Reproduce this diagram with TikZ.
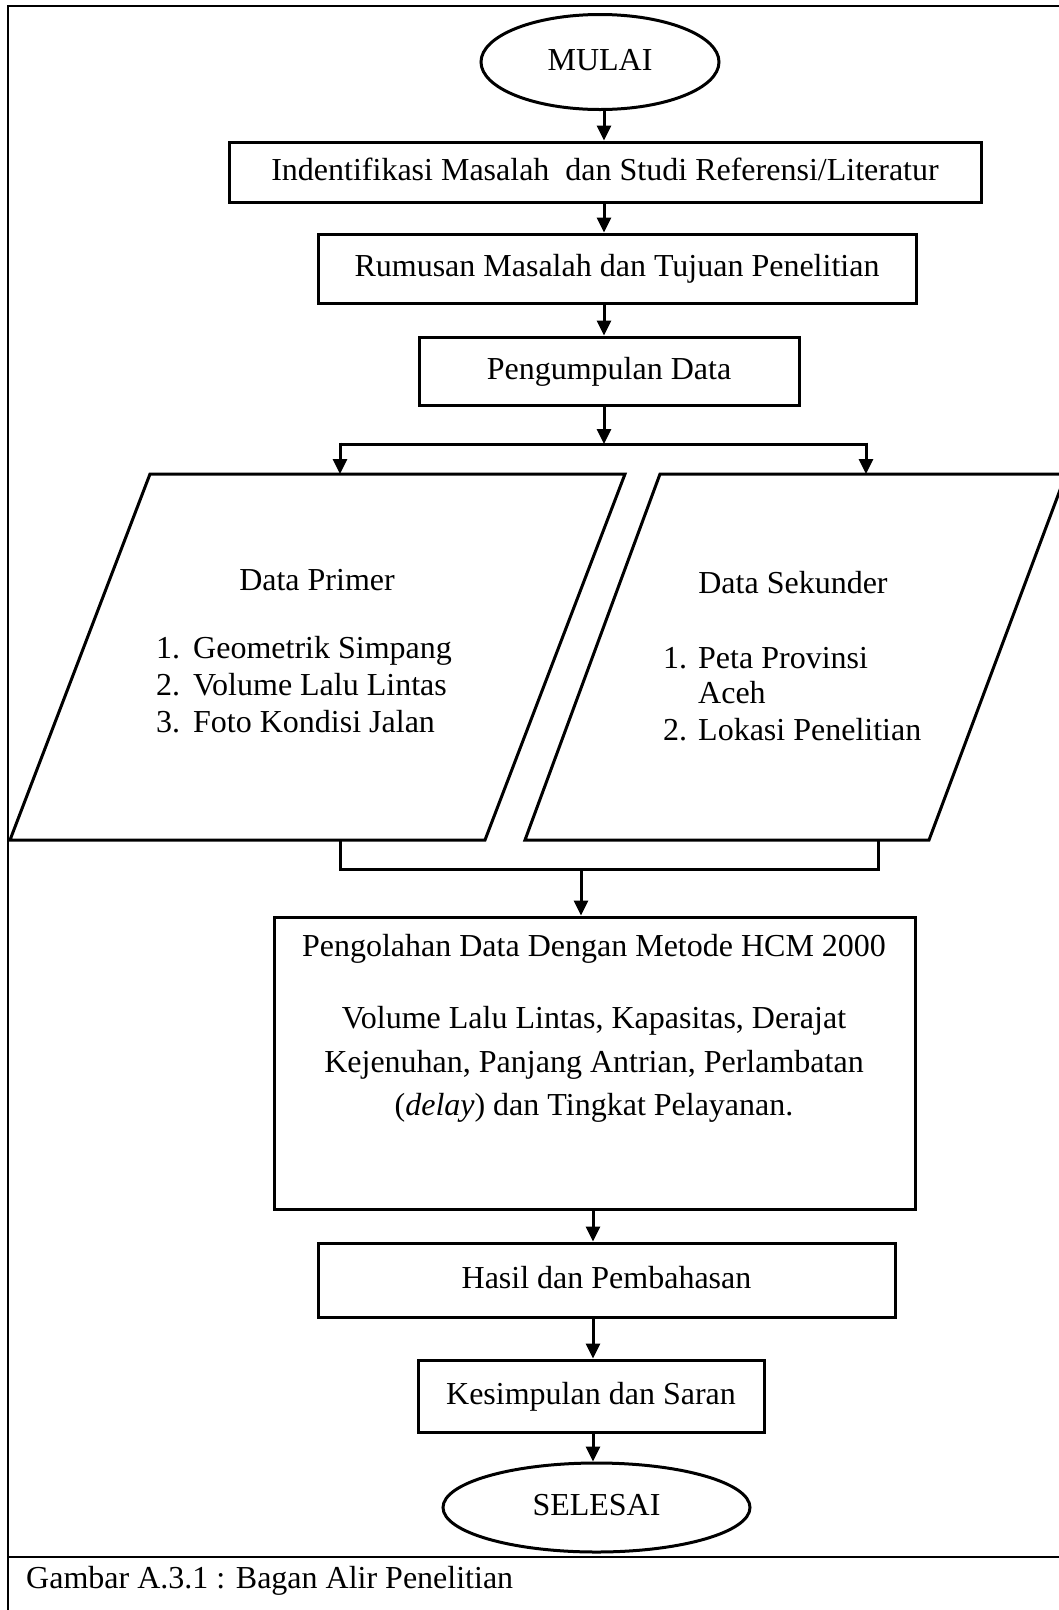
\documentclass[tikz,border=0pt]{standalone}
\usepackage{fontspec}
\setmainfont{Liberation Serif}
\usetikzlibrary{arrows.meta,shapes.geometric,calc}
\begin{document}
\begin{tikzpicture}[x=1pt,y=-1pt,
  font=\fontsize{32}{37}\selectfont,
  box/.style={draw,line width=3pt,inner sep=0pt,text height=22pt,text depth=6pt},
  term/.style={draw,ellipse,line width=3pt,inner sep=0pt,text height=22pt,text depth=6pt},
  para/.style={draw,line width=3pt,line join=miter},
  arr/.style={line width=3pt,-{Triangle[length=15pt,width=14pt]}},
  conn/.style={line width=3pt},
  frame/.style={line width=2pt},
  txt/.style={inner sep=0pt}]
\useasboundingbox (0,0) rectangle (1059,1610);
\clip (0,0) rectangle (1059,1610);
% outer frame and caption separator
\draw[frame] (1075,6) -- (8,6) -- (8,1625);
\draw[frame] (8,1557) -- (1075,1557);
\node[txt,anchor=base west] (cap) at (26,1588) {Gambar A.3.1 : Bagan Alir Penelitian};

% flow nodes
\node[term,minimum width=238,minimum height=95] (start) at (600,62) {MULAI};
\node[box,minimum width=752,minimum height=60] (b1) at (605,172) {Indentifikasi Masalah \ dan Studi Referensi/Literatur};
\node[box,minimum width=598,minimum height=69] (b2) at (617,268.5) {Rumusan Masalah dan Tujuan Penelitian};
\node[box,minimum width=380,minimum height=68] (b3) at (609,371) {Pengumpulan Data};

% parallelograms
\coordinate (pL1) at (150,474); \coordinate (pL2) at (625,474);
\coordinate (pL3) at (485,840); \coordinate (pL4) at (10,840);
\coordinate (pR1) at (660,474); \coordinate (pR2) at (1066,474);
\coordinate (pR3) at (929,840); \coordinate (pR4) at (525,840);
\draw[para] (pL1) -- (pL2) -- (pL3) -- (pL4) -- cycle;
\draw[para] (pR1) -- (pR2) -- (pR3) -- (pR4) -- cycle;

\node[txt,anchor=base] (dp) at (317,590) {Data Primer};
\node[txt,anchor=base west] (dp1n) at (156,658) {1.};
\node[txt,anchor=base west] (dp1) at (193,658) {Geometrik Simpang};
\node[txt,anchor=base west] (dp2n) at (156,695) {2.};
\node[txt,anchor=base west] (dp2) at (193,695) {Volume Lalu Lintas};
\node[txt,anchor=base west] (dp3n) at (156,732) {3.};
\node[txt,anchor=base west] (dp3) at (193,732) {Foto Kondisi Jalan};

\node[txt,anchor=base] (ds) at (793,593) {Data Sekunder};
\node[txt,anchor=base west] (ds1n) at (663,668) {1.};
\node[txt,anchor=base west] (ds1) at (698,668) {Peta Provinsi};
\node[txt,anchor=base west] (ds1b) at (698,703) {Aceh};
\node[txt,anchor=base west] (ds2n) at (663,740) {2.};
\node[txt,anchor=base west] (ds2) at (698,740) {Lokasi Penelitian};

% processing box
\node[box,minimum width=641,minimum height=292] (pg) at (594.5,1063) {};
\node[txt,anchor=base] (pgt) at (594,956) {Pengolahan Data Dengan Metode HCM 2000};
\node[txt,anchor=base] (pg1) at (594,1028) {Volume Lalu Lintas, Kapasitas, Derajat};
\node[txt,anchor=base] (pg2) at (594,1072) {Kejenuhan, Panjang Antrian, Perlambatan};
\node[txt,anchor=base] (pg3) at (594,1115) {(\textit{delay}) dan Tingkat Pelayanan.};

\node[box,minimum width=577,minimum height=74] (b5) at (606.5,1280) {Hasil dan Pembahasan};
\node[box,minimum width=346,minimum height=72] (b6) at (591,1396) {Kesimpulan dan Saran};
\node[term,minimum width=307,minimum height=89] (stop) at (596.5,1507.5) {SELESAI};

% connectors
\coordinate (ax) at (604,0);
\coordinate (bx) at (593,0);
\coordinate (sp) at (604,444);
\coordinate (spL) at (340,444);
\coordinate (spR) at (866,444);
\coordinate (mL) at (340,869);
\coordinate (mR) at (878,869);
\coordinate (mC) at (581,869);

\draw[arr] (start.south -| ax) -- (b1.north -| ax);
\draw[arr] (b1.south -| ax) -- (b2.north -| ax);
\draw[arr] (b2.south -| ax) -- (b3.north -| ax);
\draw[arr] (b3.south -| ax) -- (sp);
\draw[conn] (spL) -- (spR);
\draw[arr] ([yshift=1.5pt]spL) -- (spL |- pL1);
\draw[arr] ([yshift=1.5pt]spR) -- (spR |- pR1);
\draw[conn] (mL |- pL3) -- (mL) -- (mR) -- (mR |- pR3);
\draw[arr] (mC) -- (mC |- pg.north);
\draw[arr] (pg.south -| bx) -- (b5.north -| bx);
\draw[arr] (b5.south -| bx) -- (b6.north -| bx);
\draw[arr] (b6.south -| bx) -- (stop.north -| bx);
\end{tikzpicture}
\end{document}
